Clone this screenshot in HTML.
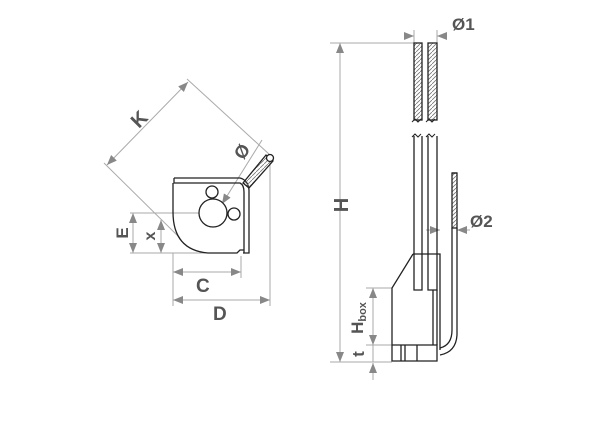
<!DOCTYPE html>
<html><head><style>body{margin:0;background:#fff}svg{display:block}text{font-family:"Liberation Sans",sans-serif;font-weight:bold;fill:#555}</style></head><body>
<svg width="600" height="424" viewBox="0 0 600 424" xmlns="http://www.w3.org/2000/svg">
<defs>
<marker id="a" markerWidth="10" markerHeight="8" refX="10" refY="4" orient="auto-start-reverse" markerUnits="userSpaceOnUse"><path d="M0,0 L10,4 L0,8 Z" fill="#888"/></marker>
<pattern id="h" width="4" height="4" patternUnits="userSpaceOnUse"><path d="M0,4 L4,0" stroke="#777" stroke-width="0.8"/></pattern>
</defs>
<g stroke="#aaa" stroke-width="1" fill="none">
<line x1="104" y1="163" x2="180" y2="238"/>
<line x1="187" y1="79" x2="270" y2="155"/>
<line x1="107" y1="165" x2="188" y2="82" marker-start="url(#a)" marker-end="url(#a)"/>
<line x1="130" y1="213" x2="210" y2="213"/>
<line x1="130" y1="253" x2="210" y2="253"/>
<line x1="133" y1="213" x2="133" y2="253" marker-start="url(#a)" marker-end="url(#a)"/>
<line x1="161" y1="220" x2="161" y2="253" marker-start="url(#a)" marker-end="url(#a)"/>
<line x1="173" y1="253" x2="173" y2="306"/>
<line x1="241" y1="256" x2="241" y2="278"/>
<line x1="270" y1="160" x2="270" y2="306"/>
<line x1="173" y1="272" x2="241" y2="272" marker-start="url(#a)" marker-end="url(#a)"/>
<line x1="173" y1="300" x2="270" y2="300" marker-start="url(#a)" marker-end="url(#a)"/>
<line x1="262" y1="140" x2="222" y2="204" marker-end="url(#a)"/>
<line x1="330" y1="43" x2="414" y2="43"/>
<line x1="340" y1="43" x2="340" y2="362" marker-start="url(#a)" marker-end="url(#a)"/>
<line x1="330" y1="362" x2="392" y2="362"/>
<line x1="366" y1="288" x2="392" y2="288"/>
<line x1="366" y1="345" x2="392" y2="345"/>
<line x1="373" y1="288" x2="373" y2="345" marker-start="url(#a)" marker-end="url(#a)"/>
<line x1="373" y1="345" x2="373" y2="362"/>
<line x1="373" y1="380" x2="373" y2="363" marker-end="url(#a)"/>
<line x1="414" y1="30" x2="414" y2="43"/><line x1="437" y1="30" x2="437" y2="43"/>
<line x1="404" y1="36" x2="414" y2="36" marker-end="url(#a)"/>
<line x1="447" y1="36" x2="437" y2="36" marker-end="url(#a)"/>
<line x1="426" y1="230" x2="440" y2="230" marker-end="url(#a)"/>
<line x1="470" y1="230" x2="457" y2="230" marker-end="url(#a)"/>
</g>
<g stroke="#222" stroke-width="1.3" fill="none">
<path d="M174,178 L240,178 Q248,180 249,190 L249,253 L243,253"/>
<path d="M174,178 L174,183 L240,183 Q244,185 244,192 L244,253"/>
<path d="M173,183 L173,212 Q173,250 208,253 L237,253 L240,250 L244,250"/>
<circle cx="213" cy="213" r="14" fill="#fff"/>
<circle cx="212" cy="192" r="6" fill="#fff"/>
<circle cx="234" cy="214" r="6" fill="#fff"/>
<path d="M243,183 L266,155 L273,161 L249,188 Z" fill="url(#h)"/>
<circle cx="270" cy="158" r="3.5" fill="#fff"/>
<rect x="414" y="43" width="8" height="77" fill="url(#h)"/>
<rect x="428" y="43" width="9" height="77" fill="url(#h)"/>
<path d="M412,122 l3,-3 l3,3 l3,-3 M426,122 l3,-3 l3,3 l3,-3 M412,137 l3,-3 l3,3 l3,-3 M426,137 l3,-3 l3,3 l3,-3" stroke-width="1"/>
<path d="M414,136 L414,290 L422,290 L422,136 M428,136 L428,290 L437,290 L437,136"/>
<path d="M413,254 L392,288 L392,361 L437,361 L437,345 L392,345 M401,345 L401,361 M405,345 L405,361 M417,345 L417,361"/>
<path d="M413,254 L440,254 L440,350 M433,290 L433,345 M437,290 L437,345"/>
<rect x="452" y="173" width="5" height="55" fill="url(#h)"/>
<path d="M452,228 L452,330 Q452,345 440,348 M457,228 L457,335 Q456,352 440,355 M452,173 L457,173"/>
</g>
<text font-size="20" text-anchor="middle" transform="translate(144,124) rotate(-45)">K</text>
<text font-size="18" text-anchor="middle" transform="translate(247,155) rotate(-55)">Ø</text>
<text font-size="17" text-anchor="middle" transform="translate(128,233) rotate(-90)">E</text>
<text font-size="16" text-anchor="middle" transform="translate(155,236) rotate(-90)">x</text>
<text x="196" y="292" font-size="19">C</text>
<text x="213" y="320" font-size="19">D</text>
<text x="452" y="30" font-size="17">Ø1</text>
<text x="470" y="227" font-size="17">Ø2</text>
<text font-size="20" text-anchor="middle" transform="translate(348,205) rotate(-90)">H</text>
<text font-size="17" text-anchor="middle" transform="translate(363,318) rotate(-90)">H<tspan font-size="11" dy="3">box</tspan></text>
<text font-size="17" text-anchor="middle" transform="translate(364,354) rotate(-90)">t</text>
</svg>
</body></html>
